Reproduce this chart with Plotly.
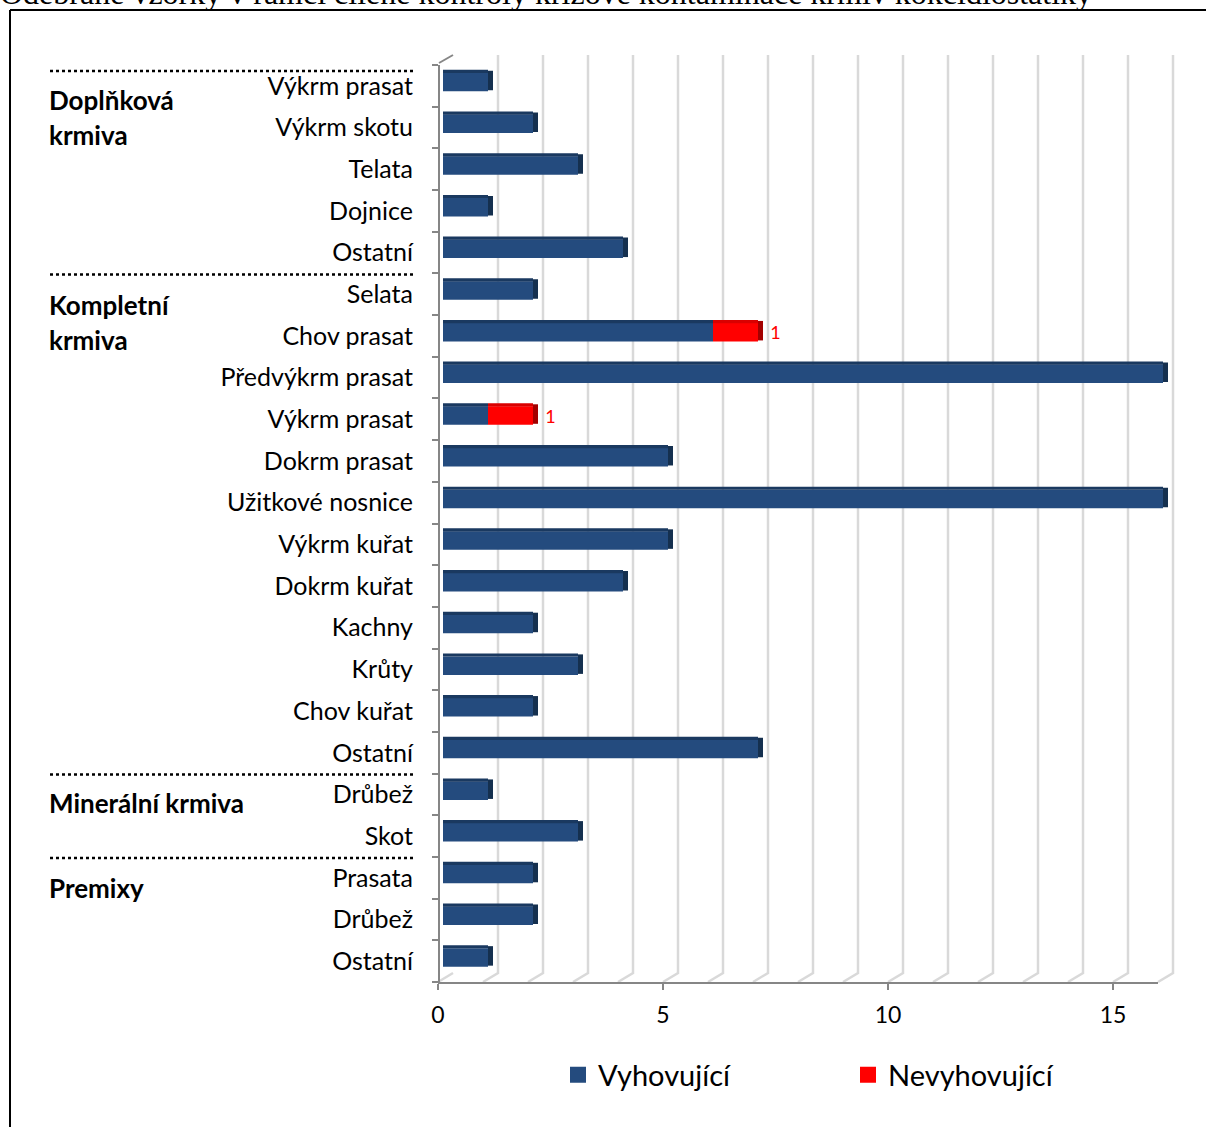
import plotly.graph_objects as go

# Sample categories (top to bottom) and counts
labels = [
    "Výkrm prasat", "Výkrm skotu", "Telata", "Dojnice", "Ostatní",
    "Selata", "Chov prasat", "Předvýkrm prasat", "Výkrm prasat", "Dokrm prasat",
    "Užitkové nosnice", "Výkrm kuřat", "Dokrm kuřat", "Kachny", "Krůty",
    "Chov kuřat", "Ostatní",
    "Drůbež", "Skot",
    "Prasata", "Drůbež", "Ostatní",
]
vyhovujici = [1, 2, 3, 1, 4, 2, 6, 16, 1, 5, 16, 5, 4, 2, 3, 2, 7, 1, 3, 2, 2, 1]
nevyhovujici = [0, 0, 0, 0, 0, 0, 1, 0, 1, 0, 0, 0, 0, 0, 0, 0, 0, 0, 0, 0, 0, 0]
x_ticks = [0, 5, 10, 15]

# Feed-type groups: (first row index, title lines)
groups = [
    (0, ["Doplňková", "krmiva"]),
    (5, ["Kompletní", "krmiva"]),
    (17, ["Minerální krmiva"]),
    (19, ["Premixy"]),
]

title = "Odebrané vzorky v rámci cílené kontroly křížové kontaminace krmiv kokcidiostatiky"

BLUE, BLUE_TOP, BLUE_SIDE = "#244b7e", "#1a3960", "#15304f"
RED, RED_TOP, RED_SIDE = "#ff0000", "#d90000", "#a30000"
GRID, AXIS = "#d9d9d9", "#868686"
FONT = "Lato"

W, H = 1206, 1127
ml, mr, mt, mb = 400, 20, 40, 140
PW, PH = W - ml - mr, H - mt - mb


def fx(p):
    return (p - ml) / PW


def fy(p):
    return 1 - (p - mt) / PH


# pixel geometry of the pseudo-3D frame
UNIT = 45.0
FLOOR_X0, WALL_X0, BAR_X0 = 438, 453, 443
FLOOR_Y, WALL_BOTTOM, WALL_TOP = 982, 973, 55
ROW_TOP = 65
XMAX = 16
BAR_XMAX = XMAX + 0.3  # room for the end faces of the longest bars
SIDE_DEPTH = 5 / UNIT  # depth of the bar end face, in axis units

n = len(labels)
idx = list(range(n))
row_h = (FLOOR_Y - ROW_TOP) / n

front_off, front_w = -13 / row_h, 18.5 / row_h
top_off, top_w = -16 / row_h, 3.2 / row_h
side_off, side_w = -15 / row_h, 19.5 / row_h

totals = [a + b for a, b in zip(vyhovujici, nevyhovujici)]
end_colors = [RED_SIDE if b else BLUE_SIDE for b in nevyhovujici]

fig = go.Figure()

common = dict(orientation="h", y=idx, showlegend=False, hoverinfo="skip")
# bar end faces
fig.add_trace(go.Bar(x=[SIDE_DEPTH] * n, base=totals, offset=side_off, width=side_w,
                     cliponaxis=False,
                     marker=dict(color=end_colors, line=dict(width=0)), **common))
# front faces
fig.add_trace(go.Bar(x=vyhovujici, base=[0] * n, offset=front_off, width=front_w,
                     marker=dict(color=BLUE, line=dict(width=0)), **common))
fig.add_trace(go.Bar(x=nevyhovujici, base=vyhovujici, offset=front_off, width=front_w,
                     marker=dict(color=RED, line=dict(width=0)),
                     text=[f"  {v}" if v else "" for v in nevyhovujici],
                     textposition="outside", cliponaxis=False, constraintext="none",
                     textfont=dict(family=FONT, size=18, color=RED), **common))
# top faces
fig.add_trace(go.Bar(x=vyhovujici, base=[0] * n, offset=top_off, width=top_w,
                     marker=dict(color=BLUE_TOP, line=dict(width=0)), **common))
fig.add_trace(go.Bar(x=nevyhovujici, base=vyhovujici, offset=top_off, width=top_w,
                     marker=dict(color=RED_TOP, line=dict(width=0)), **common))

# keeps the floor axis (x3) on the page
fig.add_trace(go.Scatter(x=[None], y=[None], xaxis="x3", yaxis="y",
                         showlegend=False, hoverinfo="skip"))

# legend entries, one legend box each
fig.add_trace(go.Scatter(x=[None], y=[None], mode="markers", name="Vyhovující",
                         legend="legend",
                         marker=dict(symbol="square", size=20, color=BLUE)))
fig.add_trace(go.Scatter(x=[None], y=[None], mode="markers", name="Nevyhovující",
                         legend="legend2",
                         marker=dict(symbol="square", size=20, color=RED)))

shapes = []
# back-wall gridlines folding onto the floor
for k in range(0, XMAX + 1):
    wx, fxp = WALL_X0 + UNIT * k, FLOOR_X0 + UNIT * k
    if k == 0:
        path = f"M{fx(wx)},{fy(WALL_BOTTOM)} L{fx(fxp)},{fy(FLOOR_Y)}"
    else:
        path = (f"M{fx(wx)},{fy(WALL_TOP)} L{fx(wx)},{fy(WALL_BOTTOM)} "
                f"L{fx(fxp)},{fy(FLOOR_Y)}")
    shapes.append(dict(type="path", xref="paper", yref="paper", path=path,
                       line=dict(color=GRID, width=2.5), layer="below"))
# top-left edge of the side wall
shapes.append(dict(type="line", xref="paper", yref="paper",
                   x0=fx(439), y0=fy(63), x1=fx(WALL_X0), y1=fy(WALL_TOP),
                   line=dict(color=AXIS, width=2)))

# dotted group separators
for r, _ in groups:
    yp = ROW_TOP + r * row_h + (6 if r == 0 else 1)
    shapes.append(dict(type="line", xref="paper", yref="paper",
                       x0=fx(50), x1=fx(413), y0=fy(yp), y1=fy(yp),
                       line=dict(color="black", width=2.5, dash="dot")))

# outer frame (left and top edges)
shapes.append(dict(type="line", xref="paper", yref="paper",
                   x0=fx(10), x1=fx(10), y0=fy(10), y1=fy(H + 5),
                   line=dict(color="black", width=2)))
shapes.append(dict(type="line", xref="paper", yref="paper",
                   x0=fx(10), x1=fx(W + 5), y0=fy(10), y1=fy(10),
                   line=dict(color="black", width=2)))

annotations = []
# group titles
group_first_line = {0: 100, 5: 305, 17: 803, 19: 888}
for r, lines in groups:
    y0 = group_first_line[r]
    for i, line in enumerate(lines):
        annotations.append(dict(text=f"<b>{line}</b>", xref="paper", yref="paper",
                                x=fx(47), y=fy(y0 + 35 * i), xanchor="left",
                                yanchor="middle", showarrow=False,
                                font=dict(family=FONT, size=26, color="black")))

# chart title (runs past the top edge)
annotations.append(dict(text=title, xref="paper", yref="paper",
                        x=fx(-2), y=fy(13), xanchor="left", yanchor="bottom",
                        showarrow=False,
                        font=dict(family="Liberation Serif", size=32, color="black")))

legend_style = dict(orientation="h", yanchor="middle", xanchor="left",
                    font=dict(family=FONT, size=29, color="black"),
                    bgcolor="rgba(0,0,0,0)", itemwidth=30)

fig.update_layout(
    width=W, height=H,
    margin=dict(l=ml, r=mr, t=mt, b=mb),
    paper_bgcolor="white", plot_bgcolor="rgba(0,0,0,0)",
    barmode="overlay",
    shapes=shapes, annotations=annotations,
    xaxis=dict(domain=[fx(BAR_X0), fx(BAR_X0 + UNIT * BAR_XMAX)],
               range=[0, BAR_XMAX], visible=False, anchor="y"),
    xaxis3=dict(domain=[fx(FLOOR_X0), fx(FLOOR_X0 + UNIT * XMAX)], range=[0, XMAX],
                anchor="y", showline=True, linecolor=AXIS, linewidth=2,
                tickvals=x_ticks, ticks="outside", ticklen=6,
                tickcolor=AXIS, tickwidth=2, showgrid=False, zeroline=False,
                ticklabelstandoff=5,
                tickfont=dict(family=FONT, size=23, color="black")),
    yaxis=dict(domain=[fy(FLOOR_Y), fy(ROW_TOP)], range=[n - 0.5, -0.5],
               anchor="free", position=fx(439),
               tickvals=idx, ticktext=labels, ticks="",
               showline=True, linecolor=AXIS, linewidth=2,
               showgrid=False, zeroline=False,
               minor=dict(tickvals=[i - 0.5 for i in range(n + 1)], ticks="outside",
                          ticklen=6, tickcolor=AXIS, tickwidth=2, showgrid=False),
               ticklabelstandoff=20,
               tickfont=dict(family=FONT, size=25, color="black")),
    legend=dict(x=fx(558), y=fy(1075), **legend_style),
    legend2=dict(x=fx(848), y=fy(1075), **legend_style),
)

fig.write_html("out.html")
